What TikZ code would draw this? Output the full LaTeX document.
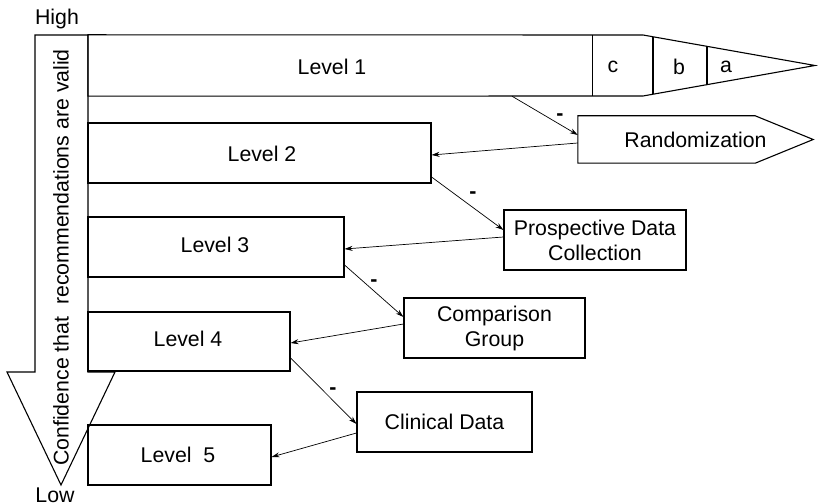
\documentclass[tikz,border=0pt]{standalone}
\usepackage{fontspec}
\setmainfont{Liberation Sans}
\usetikzlibrary{arrows.meta,calc}
\begin{document}
\begin{tikzpicture}[x=1pt,y=1pt,
  font=\fontsize{21.3}{25}\selectfont,
  box/.style={draw=black,line width=1.1pt,inner sep=0pt,rectangle},
  lbl/.style={inner sep=0pt,align=center},
  conn/.style={draw=black,line width=0.7pt,-{Stealth[length=8pt,width=5pt]}},
  minus/.style={inner sep=0pt,font=\fontsize{21.3}{25}\selectfont\bfseries}]
\useasboundingbox (0,0) rectangle (818,503);
% big confidence arrow
\draw[line width=1.1pt,fill=white] (35,468) -- (88,468) -- (88,131) -- (115,131) -- (61,18) -- (7,131) -- (35,131) -- cycle;
\node[lbl,rotate=90] (conf) at (61,245.5) {Confidence that\ \ recommendations are valid};
\node[lbl] (high) at (57,484) {High};
\node[lbl,anchor=north] (low) at (55,15) {Low};
% Level 1 with tapered head
\node[lbl,minimum width=504,minimum height=61] (L1) at (340,437.5) {};
\node[lbl] (L1t) at (332,436) {Level 1};
\coordinate (t1) at (643,468);
\coordinate (t2) at (643,407);
\coordinate (tip) at (815,437.5);
\draw[line width=1.1pt] (L1.north west) -- (t1) -- (tip) -- (t2) -- (L1.south west) -- cycle;
\draw[line width=1.1pt] (L1.north east) -- (L1.south east);
\draw[line width=1.1pt] ($(t1)!10/172!(tip)$) -- ($(t2)!10/172!(tip)$);
\draw[line width=1.1pt] ($(t1)!64/172!(tip)$) -- ($(t2)!64/172!(tip)$);
\node[lbl] (cc) at (613,436) {c};
\node[lbl] (bb) at (679,436) {b};
\node[lbl] (aa) at (726,436) {a};
% levels 2-5
\node[box,minimum width=343,minimum height=60] (L2) at (259.5,350) {};
\node[lbl] (L2t) at (262,349) {Level 2};
\node[box,minimum width=256,minimum height=60] (L3) at (216,256) {};
\node[lbl] (L3t) at (215,258) {Level 3};
\node[box,minimum width=202,minimum height=59] (L4) at (189,161.5) {};
\node[lbl] (L4t) at (188,164) {Level 4};
\node[box,minimum width=183,minimum height=60] (L5) at (179.5,48) {};
\node[lbl] (L5t) at (178,48) {Level\ \ 5};
% Randomization pointer
\node[lbl,minimum width=235,minimum height=47] (R) at (695.5,363.5) {Randomization};
\draw[line width=1.1pt] (R.north west) -- ([xshift=-58]R.north east) -- (R.east) -- ([xshift=-58]R.south east) -- (R.south west) -- cycle;
% other boxes
\node[box,minimum width=182,minimum height=60,align=center] (P) at (595,263) {Prospective Data\\Collection};
\node[box,minimum width=181,minimum height=60,align=center] (C) at (494.5,175) {Comparison\\Group};
\node[box,minimum width=175,minimum height=60] (D) at (444.5,81) {Clinical Data};
% connectors
\draw[conn] ([xshift=172]L1.south) -- ([yshift=4.5]R.west);
\draw[conn] ([yshift=-3.5]R.west) -- ([yshift=-2]L2.east);
\draw[conn] ([yshift=-24]L2.east) -- ([yshift=10]P.west);
\draw[conn] ([yshift=3]P.west) -- ([yshift=-2]L3.east);
\draw[conn] ([yshift=-18]L3.east) -- ([yshift=11]C.west);
\draw[conn] ([yshift=4]C.west) -- ([yshift=-1.5]L4.east);
\draw[conn] ([yshift=-16.5]L4.east) -- ([yshift=-2]D.west);
\draw[conn] ([yshift=-11]D.west) -- ([yshift=-2]L5.east);
% minus signs
\node[minus] (m1) at (560,386) {-};
\node[minus] (m2) at (473,308) {-};
\node[minus] (m3) at (374,220) {-};
\node[minus] (m4) at (333,112) {-};
\end{tikzpicture}
\end{document}
